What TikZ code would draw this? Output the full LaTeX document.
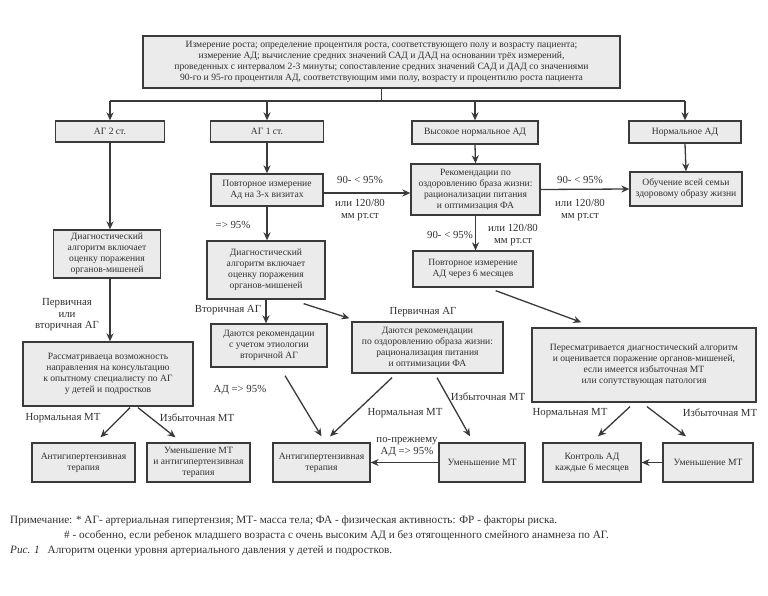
\documentclass[tikz,border=0pt]{standalone}
\usepackage{fontspec}
\setmainfont{Liberation Serif}
\usetikzlibrary{arrows.meta}
\definecolor{boxfill}{HTML}{EBEBEB}
\definecolor{ink}{HTML}{3A3A3A}
\definecolor{txt}{HTML}{303030}
\begin{document}
\begin{tikzpicture}[x=1pt,y=-1pt,
  box/.style={draw=ink,line width=1.3pt,fill=boxfill,align=center,inner sep=1pt,
    font=\fontsize{9.6}{11}\selectfont,text=txt},
  lbl/.style={align=center,font=\fontsize{10.8}{11.5}\selectfont,text=txt,inner sep=0pt},
  arr/.style={draw=ink,line width=1.3pt,-{Stealth[length=8pt,width=7pt]}},
  ln/.style={draw=ink,line width=1.3pt},
  foot/.style={anchor=west,font=\fontsize{11.2}{12}\selectfont,text=txt,inner sep=0pt}]
\useasboundingbox[fill=white] (0,0) rectangle (768,596);

% boxes
\node[box,minimum width=477pt,minimum height=52pt] (top) at (381.5,62)
 {Измерение роста; определение процентиля роста, соответствующего полу и возрасту пациента;\\
  измерение АД; вычисление средних значений САД и ДАД на основании трёх измерений,\\
  проведенных с интервалом 2-3 минуты; сопоставление средних значений САД и ДАД со значениями\\
  90-го и 95-го процентиля АД, соответствующим ими полу, возрасту и процентилю роста пациента};
\node[box,minimum width=109pt,minimum height=21pt] (ag2) at (110,131.5) {АГ 2 ст.};
\node[box,minimum width=113pt,minimum height=21pt] (ag1) at (267,131.5) {АГ 1 ст.};
\node[box,minimum width=126pt,minimum height=23pt] (hn) at (475,132.5) {Высокое нормальное АД};
\node[box,minimum width=112pt,minimum height=22pt] (norm) at (685,132) {Нормальное АД};
\node[box,minimum width=112pt,minimum height=32pt] (rep3) at (267,190) {Повторное измерение\\Ад на 3-х визитах};
\node[box,minimum width=129pt,minimum height=51pt] (rec) at (475.5,189.5) {Рекомендации по\\оздоровлению браза жизни:\\рационализации питания\\и оптимизация ФА};
\node[box,minimum width=112pt,minimum height=34pt] (edu) at (686,189) {Обучение всей семьи\\здоровому образу жизни};
\node[box,minimum width=107pt,minimum height=48pt] (diagL) at (107,254) {Диагностический\\алгоритм включает\\оценку поражения\\органов-мишеней};
\node[box,minimum width=118pt,minimum height=58pt] (diagM) at (266,270) {Диагностический\\алгоритм включает\\оценку поражения\\органов-мишеней};
\node[box,minimum width=120pt,minimum height=36pt] (rep6) at (473,269) {Повторное измерение\\АД через 6 месяцев};
\node[box,minimum width=170pt,minimum height=64pt] (consult) at (108,374) {Рассматриваеца возможность\\направления на консультацию\\к опытному специалисту по АГ\\у детей и подростков};
\node[box,minimum width=116pt,minimum height=43pt] (etio) at (269,345.5) {Даются рекомендации\\с учетом этиологии\\вторичной АГ};
\node[box,minimum width=151pt,minimum height=51pt] (life) at (427.5,347.5) {Даются рекомендации\\по оздоровлению образа жизни:\\рационализация питания\\и оптимизации ФА};
\node[box,minimum width=224pt,minimum height=74pt] (revise) at (644,365) {Пересматривается диагностический алгоритм\\и оценивается поражение органов-мишеней,\\если имеется избыточная МТ\\или сопутствующая патология};
\node[box,minimum width=103pt,minimum height=39pt] (b1) at (83.5,462.5) {Антигипертензивная\\терапия};
\node[box,minimum width=103pt,minimum height=39pt] (b2) at (198.5,462.5) {Уменьшение МТ\\и антигипертензивная\\терапия};
\node[box,minimum width=97pt,minimum height=39pt] (b3) at (321.5,462.5) {Антигипертензивная\\терапия};
\node[box,minimum width=86pt,minimum height=39pt] (b4) at (482,462.5) {Уменьшение МТ};
\node[box,minimum width=98pt,minimum height=39pt] (b5) at (592,462.5) {Контроль АД\\каждые 6 месяцев};
\node[box,minimum width=90pt,minimum height=39pt] (b6) at (708,462.5) {Уменьшение МТ};

% bus from top box
\coordinate (bus) at (381.5,101);
\coordinate (busL) at (110,101);
\coordinate (busR) at (685,101);
\draw[ln] (top.south) -- (bus);
\draw[ln] (busL) -- (busR);
\draw[arr] (busL) -- (ag2.north);
\draw[arr] (ag1.north |- bus) -- (ag1.north);
\draw[arr] (hn.north |- bus) -- (hn.north);
\draw[arr] (busR) -- (norm.north);

% second level
\draw[arr] (ag1.south) -- (rep3.north);
\draw[arr] (hn.south) -- (rec.north);
\draw[arr] (norm.south) -- (edu.north);
\draw[arr] ([yshift=-3pt]rep3.east) -- ([yshift=-3pt]rep3.east -| rec.west);
\draw[arr] (rec.east) -- (edu.west);
\draw[arr] (rec.south) -- (rec.south |- rep6.north);
\draw[arr] (ag2.south) -- (ag2.south |- diagL.north);
\draw[arr] (rep3.south) -- (rep3.south |- diagM.north);
\draw[arr] (ag2 |- diagL.south) -- (ag2 |- consult.north);
\draw[arr] (diagM.south) -- (diagM.south |- etio.north);
\draw[arr] ([xshift=-22pt,yshift=-4pt]diagM.south east) -- ([xshift=-2pt,yshift=3pt]life.north west);
\draw[arr] ([xshift=-38pt,yshift=-3pt]rep6.south east) -- ([xshift=50pt,yshift=5pt]revise.north west);

% bottom arrows
\draw[arr] ([xshift=22pt,yshift=-1pt]consult.south) -- ([xshift=17pt,yshift=5pt]b1.north);
\draw[arr] ([xshift=30pt,yshift=-1pt]consult.south) -- ([xshift=-23pt,yshift=5pt]b2.north);
\draw[arr] ([xshift=16pt,yshift=-8pt]etio.south) -- ([yshift=6pt]b3.north);
\draw[arr] ([xshift=-35.5pt,yshift=-4pt]life.south) -- ([xshift=8.5pt,yshift=6pt]b3.north);
\draw[arr] ([xshift=9.5pt,yshift=-4pt]life.south) -- ([xshift=-12pt,yshift=6pt]b4.north);
\draw[arr] (b4.west) -- (b3.east);
\draw[arr] ([xshift=-14pt,yshift=-4pt]revise.south) -- ([xshift=6pt,yshift=6pt]b5.north);
\draw[arr] ([xshift=3pt,yshift=-4pt]revise.south) -- ([xshift=-22pt,yshift=6pt]b6.north);
\draw[arr] (b6.west) -- (b5.east);

% labels
\node[lbl] (l1) at (360,180) {90- < 95\%};
\node[lbl] (l2) at (360,210) {или 120/80\\мм рт.ст};
\node[lbl] (l3) at (580,180) {90- < 95\%};
\node[lbl] (l4) at (580,210) {или 120/80\\мм рт.ст};
\node[lbl] (l5) at (450,235) {90- < 95\%};
\node[lbl] (l6) at (513,235) {или 120/80\\мм рт.ст};
\node[lbl] (l7) at (233,225) {=> 95\%};
\node[lbl] (l8) at (67,315) {Первичная\\или\\вторичная АГ};
\node[lbl] (l9) at (228,310) {Вторичная АГ};
\node[lbl] (l10) at (423,312) {Первичная АГ};
\node[lbl] (l11) at (240,390) {АД => 95\%};
\node[lbl] (l12) at (405,413) {Нормальная МТ};
\node[lbl] (l13) at (488,397) {Избыточная МТ};
\node[lbl] (l14) at (407,447) {по-прежнему\\АД => 95\%};
\node[lbl] (l15) at (63,418) {Нормальная МТ};
\node[lbl] (l16) at (197,418) {Избыточная МТ};
\node[lbl] (l17) at (570,413) {Нормальная МТ};
\node[lbl] (l18) at (720,413) {Избыточная МТ};

% footer
\node[foot] (f1) at (10,521) {Примечание: * АГ- артериальная гипертензия; МТ- масса тела; ФА - физическая активность: ФР - факторы риска.};
\node[foot] (f2) at (64,536) {\# - особенно, если ребенок младшего возраста с очень высоким АД и без отягощенного смейного анамнеза по АГ.};
\node[foot] (f3) at (10,551) {\textit{Рис. 1}\hspace{8pt}Алгоритм оценки уровня артериального давления у детей и подростков.};
\end{tikzpicture}
\end{document}
